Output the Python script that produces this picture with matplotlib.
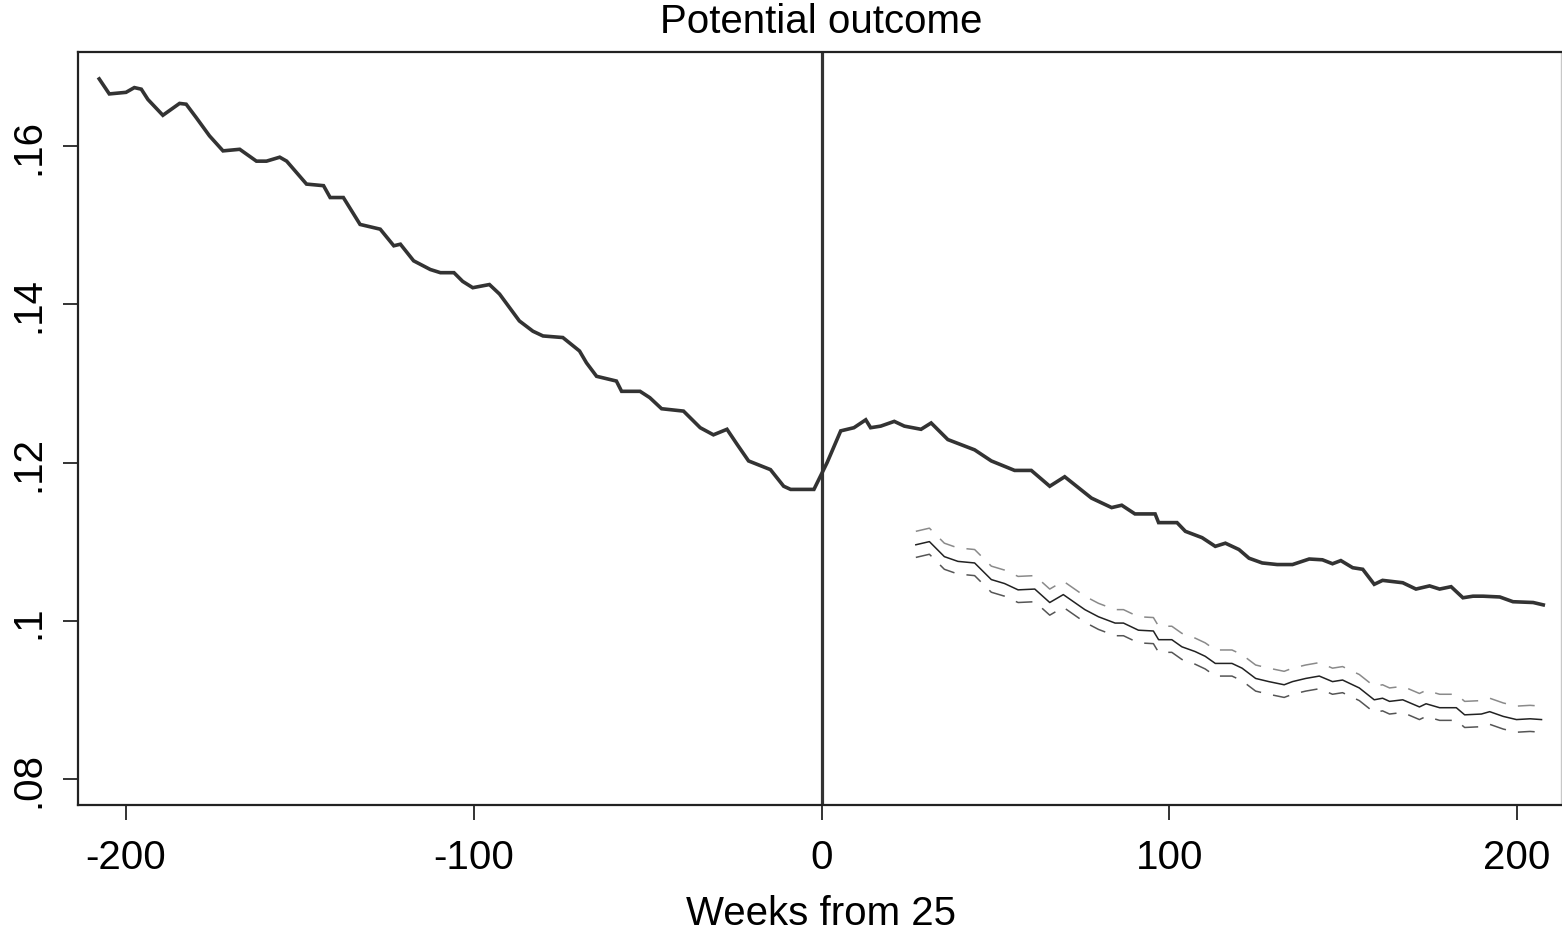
import matplotlib
matplotlib.use("Agg")
import matplotlib.pyplot as plt

plt.rcParams["font.family"] = ["Liberation Sans", "DejaVu Sans"]
plt.rcParams["axes.unicode_minus"] = False

# main series: potential outcome by week
weeks = [-207.7, -204.8, -200.0, -197.6, -195.6, -193.7, -189.4, -184.6, -182.7, -179.8,
         -176.0, -172.1, -167.3, -162.5, -159.6, -155.8, -153.8, -148.1, -143.2, -141.3,
         -137.5, -132.7, -126.9, -123.0, -121.1, -117.3, -112.5, -109.6, -105.7, -103.2,
         -100.3, -95.5, -92.6, -86.9, -83.0, -80.1, -74.4, -69.6, -67.6, -64.7,
         -59.0, -57.5, -52.2, -49.4, -46.0, -39.7, -34.9, -31.1, -27.2, -24.3,
         -21.0, -14.7, -10.9, -8.9, -2.2, -0.3, 1.6, 5.5, 9.3, 12.7,
         14.1, 17.0, 20.9, 23.8, 28.6, 31.5, 36.3, 44.0, 48.8, 55.5,
         60.3, 65.6, 69.9, 77.6, 83.4, 86.3, 90.1, 95.9, 96.9, 102.2,
         104.6, 109.4, 113.2, 116.1, 120.0, 122.9, 126.7, 131.0, 135.4, 140.2,
         144.0, 146.9, 149.3, 152.7, 155.6, 158.9, 161.3, 167.1, 170.9, 174.8,
         177.7, 181.0, 184.4, 187.3, 190.2, 195.0, 198.8, 204.6, 207.5]
outcome = [.1685, .1666, .1668, .1674, .1672, .1659, .1639, .1654, .1653, .1636,
           .1613, .1594, .1596, .1581, .1581, .1586, .1581, .1552, .1550, .1535,
           .1535, .1501, .1495, .1474, .1476, .1455, .1444, .1440, .1440, .1429,
           .1421, .1425, .1413, .1379, .1366, .1360, .1358, .1341, .1326, .1309,
           .1303, .1290, .1290, .1282, .1268, .1265, .1244, .1235, .1242, .1223,
           .1202, .1191, .1170, .1166, .1166, .1183, .1200, .1240, .1244, .1254,
           .1244, .1246, .1252, .1246, .1242, .1250, .1229, .1216, .1202, .1190,
           .1190, .1170, .1182, .1155, .1143, .1146, .1135, .1135, .1124, .1124,
           .1113, .1105, .1094, .1098, .1090, .1079, .1073, .1071, .1071, .1078,
           .1077, .1072, .1076, .1067, .1065, .1046, .1051, .1048, .1040, .1044,
           .1040, .1043, .1029, .1031, .1031, .1030, .1024, .1023, .1020]

# counterfactual with confidence band
cf_weeks = [27.1, 31.0, 35.3, 39.2, 44.0, 48.8, 52.6, 56.5, 61.3, 65.6,
            69.5, 75.7, 79.6, 84.4, 86.8, 91.1, 95.4, 96.9, 100.7, 103.6,
            107.4, 110.3, 113.2, 118.0, 120.9, 124.8, 128.6, 133.0, 135.4, 139.2,
            143.1, 146.9, 149.8, 154.6, 158.9, 161.3, 163.3, 167.1, 171.9, 173.8,
            177.7, 182.5, 184.9, 189.7, 192.1, 196.0, 199.8, 203.7, 207.0]
cf_mid = [.1096, .1100, .1081, .1075, .1073, .1052, .1047, .1039, .1040, .1023,
          .1033, .1014, .1005, .0997, .0997, .0988, .0987, .0976, .0976, .0967,
          .0961, .0955, .0946, .0946, .0940, .0927, .0923, .0919, .0923, .0927,
          .0930, .0923, .0925, .0915, .0900, .0902, .0898, .0900, .0891, .0895,
          .0890, .0890, .0881, .0882, .0885, .0879, .0875, .0876, .0875]
cf_hi = [.1113, .1117, .1098, .1092, .1090, .1069, .1064, .1056, .1057, .1040,
         .1050, .1031, .1022, .1014, .1014, .1005, .1004, .0993, .0993, .0984,
         .0978, .0972, .0963, .0963, .0957, .0944, .0940, .0936, .0940, .0944,
         .0947, .0940, .0942, .0932, .0917, .0919, .0915, .0917, .0908, .0912,
         .0907, .0907, .0898, .0899, .0902, .0896, .0892, .0893, .0892]
cf_lo = [.1080, .1084, .1065, .1059, .1057, .1036, .1031, .1023, .1024, .1007,
         .1017, .0998, .0989, .0981, .0981, .0972, .0971, .0960, .0960, .0951,
         .0945, .0939, .0930, .0930, .0924, .0911, .0907, .0903, .0907, .0911,
         .0914, .0907, .0909, .0899, .0884, .0886, .0882, .0884, .0875, .0879,
         .0874, .0874, .0865, .0866, .0869, .0863, .0859, .0860, .0859]

xticks = [-200, -100, 0, 100, 200]
yticks = [.08, .10, .12, .14, .16]
ylabels = [".08", ".1", ".12", ".14", ".16"]

fig = plt.figure(figsize=(15.62, 9.37), dpi=100)
ax = fig.add_axes([78 / 1562, 1 - 806 / 937, 1483 / 1562, 753 / 937])

ax.plot(weeks, outcome, color="#333333", lw=2.6, solid_joinstyle="miter")
ax.axvline(0, color="#333333", lw=2.3)
ax.plot(cf_weeks, cf_mid, color="#222222", lw=1.1)
ax.plot(cf_weeks, cf_hi, color="#8a8a8a", lw=1.1, dashes=(11, 8))
ax.plot(cf_weeks, cf_lo, color="#555555", lw=1.1, dashes=(11, 8))

ax.set_xlim(-213.8, 212.6)
ax.set_ylim(0.0767, 0.1719)
ax.set_xticks(xticks)
ax.set_yticks(yticks, ylabels)
ax.tick_params(axis="both", length=11, width=1.4, color="#333333",
               labelsize=29, direction="out")
ax.tick_params(axis="x", pad=13)
ax.tick_params(axis="y", pad=11)
for lab in ax.get_yticklabels():
    lab.set_rotation(90)
    lab.set_va("center")

for side in ["left", "bottom", "top"]:
    ax.spines[side].set_color("#222222")
    ax.spines[side].set_linewidth(1.6)
ax.spines["right"].set_color("#c8c8c8")
ax.spines["right"].set_linewidth(1.0)

fig.text(821 / 1562, 1 - 3 / 937, "Potential outcome", ha="center", va="top", fontsize=29)
fig.text(821 / 1562, 1 - 895 / 937, "Weeks from 25", ha="center", va="top", fontsize=29)

fig.savefig("out.png", dpi=100)
